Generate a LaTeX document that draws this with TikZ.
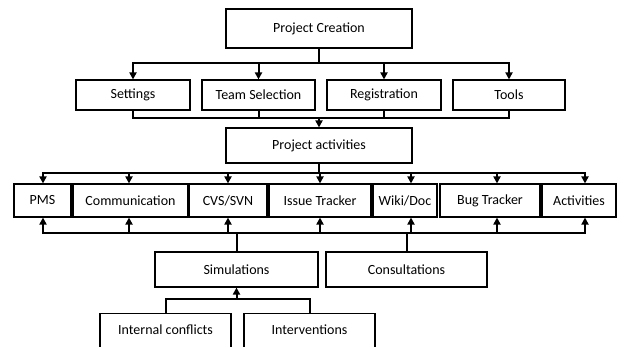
\documentclass[tikz,border=0pt]{standalone}
\usepackage{fontspec}
\setmainfont{Carlito}
\usetikzlibrary{arrows.meta}
\begin{document}
\begin{tikzpicture}[x=1pt,y=-1pt,
  box/.style={draw=black,line width=1.1pt,rectangle,inner sep=0pt,font=\fontsize{14}{16}\selectfont,align=center},
  conn/.style={line width=2pt,line join=miter},
  arr/.style={conn,-{Triangle[length=7pt,width=7pt]}}]
\useasboundingbox (0,0) rectangle (628,347);
\clip (0,0) rectangle (628,347);
\fill[white] (0,0) rectangle (628,347);
% nodes
\node[box,minimum width=186,minimum height=39] (pc) at (319,28.5) {Project Creation};
\node[box,minimum width=114,minimum height=30] (set) at (133,95) {Settings};
\node[box,minimum width=113,minimum height=30] (team) at (258.5,95) {Team Selection};
\node[box,minimum width=114,minimum height=30] (reg) at (384,95) {Registration};
\node[box,minimum width=112,minimum height=30] (tools) at (509,95) {Tools};
\node[box,minimum width=186,minimum height=35] (pa) at (319,145.5) {Project activities};
\node[box,minimum width=57,minimum height=33] (pms) at (42.5,200.5) {PMS};
\node[box,minimum width=115,minimum height=33] (comm) at (130.5,200.5) {Communication};
\node[box,minimum width=78,minimum height=33] (cvs) at (228,200.5) {CVS/SVN};
\node[box,minimum width=102,minimum height=33] (issue) at (320,200.5) {Issue Tracker};
\node[box,minimum width=64,minimum height=33] (wiki) at (405,200.5) {Wiki/Doc};
\node[box,minimum width=100,minimum height=33] (bug) at (490,200.5) {Bug Tracker};
\node[box,minimum width=74,minimum height=33] (act) at (579,200.5) {Activities};
\node[box,minimum width=163,minimum height=35] (sim) at (236.5,269.5) {Simulations};
\node[box,minimum width=161,minimum height=35] (cons) at (406.5,269.5) {Consultations};
\node[box,minimum width=131,anchor=north,text height=20.5pt,text depth=30pt] (intc) at (165.5,313) {Internal conflicts};
\node[box,minimum width=131,anchor=north,text height=20.5pt,text depth=30pt] (intv) at (309.5,313) {Interventions};
% bus points
\coordinate (b1) at (319,63);
\coordinate (b2) at (319,118);
\coordinate (b3) at (319,173);
\coordinate (b4) at (236.5,233);
\coordinate (b5) at (236.5,299);
% connectors
\draw[conn] (pc.south) -- (b1);
\draw[arr] (b1) -| (set.north);
\draw[arr] (b1) -| (team.north);
\draw[arr] (b1) -| (reg.north);
\draw[arr] (b1) -| (tools.north);
\draw[conn] (set.south) |- (b2);
\draw[conn] (team.south) |- (b2);
\draw[conn] (reg.south) |- (b2);
\draw[conn] (tools.south) |- (b2);
\draw[arr] (b2) -- (pa.north);
\draw[conn] (pa.south) -- (b3);
\draw[arr] (b3) -| ([xshift=0.5]pms.north);
\draw[arr] (b3) -| ([xshift=-1.5]comm.north);
\draw[arr] (b3) -| (cvs.north);
\draw[arr] (b3) -| (issue.north);
\draw[arr] (b3) -| ([xshift=6]wiki.north);
\draw[arr] (b3) -| ([xshift=7]bug.north);
\draw[arr] (b3) -| ([xshift=6]act.north);
\draw[conn] (sim.north) -- (b4);
\draw[arr] (b4) -| ([xshift=0.5]pms.south);
\draw[arr] (b4) -| ([xshift=-1.5]comm.south);
\draw[arr] (b4) -| (cvs.south);
\draw[arr] (b4) -| (issue.south);
\draw[arr] (b4) -| ([xshift=6]wiki.south);
\draw[arr] (b4) -| ([xshift=7]bug.south);
\draw[arr] (b4) -| ([xshift=6]act.south);
\draw[conn] (cons.north) -- (cons.north |- b4);
\draw[conn] (intc.north) |- (b5);
\draw[conn] (intv.north) |- (b5);
\draw[arr] (b5) -- (sim.south);
\end{tikzpicture}
\end{document}
